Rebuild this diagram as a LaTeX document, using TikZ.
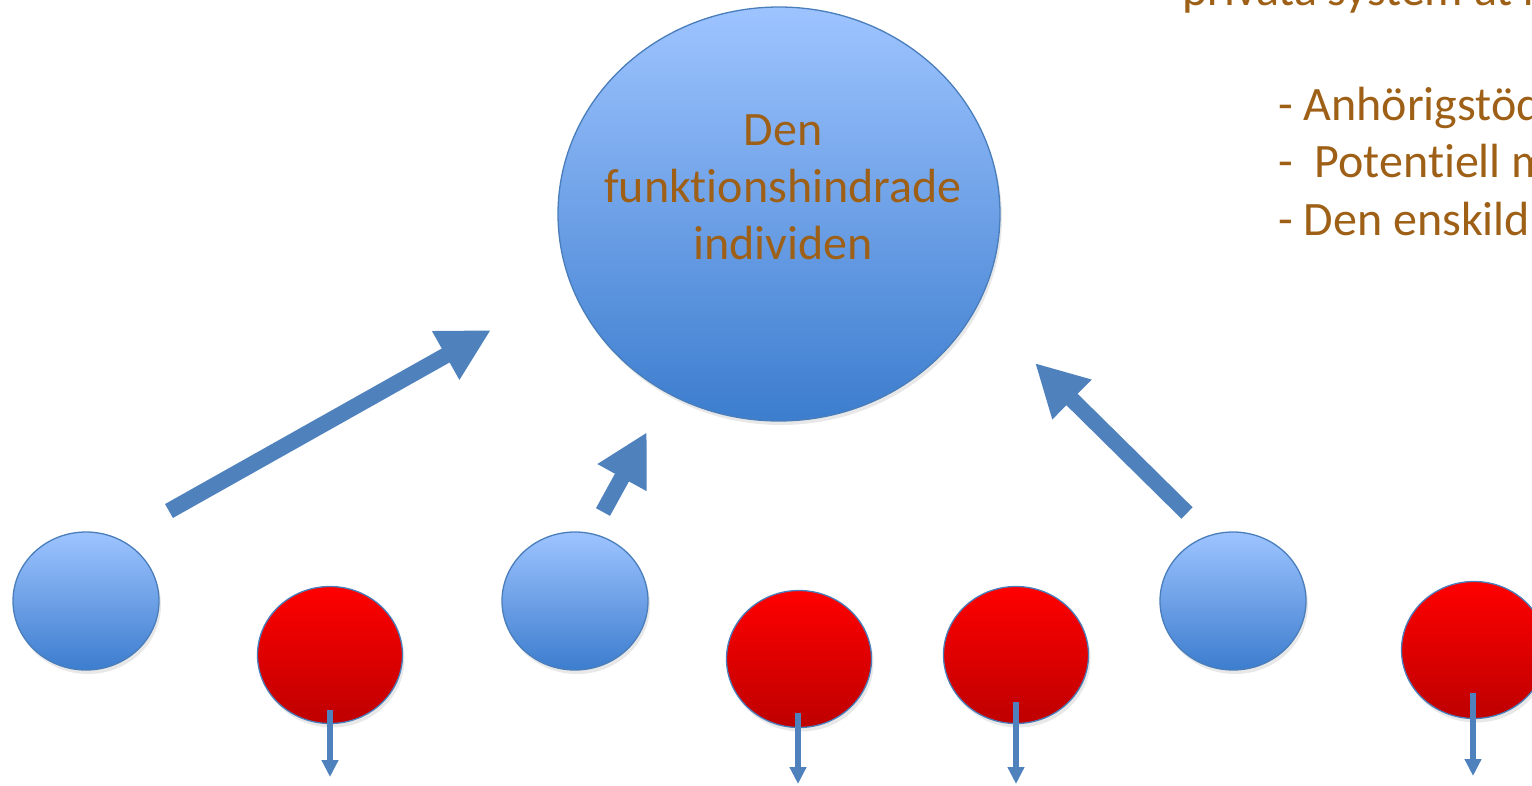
\documentclass[tikz,border=0pt]{standalone}
\usepackage{fontspec}
\setmainfont{Carlito}[Ligatures={NoCommon}]
\usetikzlibrary{shapes.geometric,arrows.meta,shadows}
\definecolor{txtbrown}{RGB}{158,96,22}
\definecolor{bluetop}{RGB}{158,196,255}
\definecolor{bluebot}{RGB}{60,125,206}
\definecolor{redtop}{RGB}{255,0,0}
\definecolor{redbot}{RGB}{190,0,0}
\definecolor{edgeblue}{RGB}{74,126,187}
\definecolor{arrowblue}{RGB}{79,129,189}
\newcommand{\nolig}{\kern0pt{}}
\tikzset{
  softshadow/.style={drop shadow={opacity=0.18,shadow xshift=2pt,shadow yshift=-4pt}},
  bluecirc/.style={ellipse,draw=edgeblue,line width=1.3pt,top color=bluetop,bottom color=bluebot,inner sep=0pt,softshadow},
  redcirc/.style={ellipse,draw=edgeblue,line width=1.3pt,top color=redtop,bottom color=redbot,inner sep=0pt,minimum width=145pt,minimum height=137pt,softshadow},
  smallblue/.style={bluecirc,minimum width=146pt,minimum height=138pt},
  bigarrow/.style={draw=arrowblue,line width=16pt,line cap=butt,-{Triangle[length=52pt,width=52pt]}},
  thinarrow/.style={draw=arrowblue,line width=6pt,line cap=butt,-{Triangle[length=17pt,width=16pt]}},
  bigtxt/.style={text=txtbrown,font=\fontsize{48}{57}\selectfont,inner sep=0pt}
}
\begin{document}
\begin{tikzpicture}[x=1pt,y=-1pt]
\useasboundingbox (0,0) rectangle (1532,785);
\clip (0,0) rectangle (1532,785);
% main circle
\node[bluecirc,minimum width=442pt,minimum height=414pt] (main) at (779,214) {};
\node[bigtxt,align=center] (maintext) at (783,187) {Den\\funkt\nolig ionshindrade\\individen};
% small blue circles
\node[smallblue] (b1) at (86,601) {};
\node[smallblue] (b2) at (575,601) {};
\node[smallblue] (b3) at (1233,601) {};
% red circles
\node[redcirc] (r1) at (330,655) {};
\node[redcirc] (r2) at (799,659) {};
\node[redcirc] (r3) at (1016,655) {};
\node[redcirc] (r4) at (1474,650) {};
% big arrows
\coordinate (a1s) at (169,511);
\coordinate (a1e) at (491,330);
\coordinate (a2s) at (603,512);
\coordinate (a2e) at (647,432);
\coordinate (a3s) at (1187,513);
\coordinate (a3e) at (1035,363);
\draw[bigarrow] (a1s) -- (a1e);
\draw[bigarrow] (a2s) -- (a2e);
\draw[bigarrow] (a3s) -- (a3e);
% small arrows
\coordinate (s1s) at (330,710); \coordinate (s1e) at (330,777);
\coordinate (s2s) at (798,713); \coordinate (s2e) at (798,784);
\coordinate (s3s) at (1016,702); \coordinate (s3e) at (1016,784);
\coordinate (s4s) at (1473,693); \coordinate (s4e) at (1473,776);
\draw[thinarrow] (s1s) -- (s1e);
\draw[thinarrow] (s2s) -- (s2e);
\draw[thinarrow] (s3s) -- (s3e);
\draw[thinarrow] (s4s) -- (s4e);
% right text
\node[bigtxt,anchor=base west] (t0) at (1182,5) {privata system at r};
\node[bigtxt,anchor=base west] (t1) at (1278,120) {- Anhörigstöd};
\node[bigtxt,anchor=base west] (t2) at (1278,177) {-\ \ Potent\nolig iell m};
\node[bigtxt,anchor=base west] (t3) at (1278,235) {- Den enskild};
\end{tikzpicture}
\end{document}
